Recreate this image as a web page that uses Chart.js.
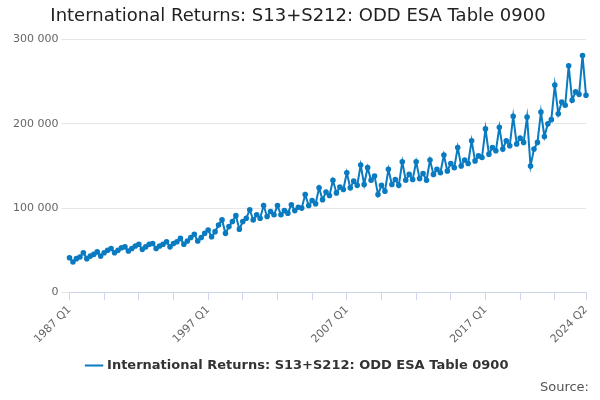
<!DOCTYPE html>
<html>
<head>
<meta charset="utf-8">
<script src="https://cdn.jsdelivr.net/npm/chart.js@4/dist/chart.umd.min.js"></script>
<style>
  body { margin: 0; background: #fff; font-family: "DejaVu Sans", sans-serif; }
  #wrap { position: relative; width: 600px; height: 400px; }
  #source { position: absolute; right: 11px; bottom: 6px; font-size: 13px; color: #555; }
</style>
</head>
<body>
<div id="wrap">
  <canvas id="myChart" width="600" height="400"></canvas>
  <div id="source">Source:</div>
</div>
<script>
/* global Chart */

const firstYear = 1987;
const seriesName = 'International Returns: S13+S212: ODD ESA Table 0900';

// thousands, quarterly from 1987 Q1 to 2024 Q2
const returns = [
  41, 36, 40, 42, 47, 40, 43, 45, 48, 43, 47, 50, 52, 47, 50, 53,
  54, 49, 52, 55, 57, 51, 54, 57, 58, 52, 55, 57, 60, 54, 58, 60,
  64, 57, 61, 65, 69, 61, 65, 70, 74, 66, 72, 80, 86, 70, 78, 84,
  91, 75, 84, 88, 98, 86, 92, 88, 103, 90, 96, 92, 103, 92, 97, 94,
  104, 97, 101, 100, 116, 103, 109, 105, 124, 110, 119, 115, 133, 118, 125, 122,
  142, 124, 132, 127, 151, 128, 148, 133, 138, 116, 127, 120, 146, 128, 134, 127,
  155, 133, 140, 134, 155, 135, 141, 133, 157, 140, 146, 142, 163, 144, 153, 148,
  172, 150, 157, 153, 180, 156, 162, 160, 194, 164, 172, 168, 196, 170, 180, 174,
  209, 176, 183, 178, 208, 150, 170, 178, 214, 185, 200, 205, 246, 212, 226, 222,
  269, 228, 238, 235, 281, 234,
];

const quarters = returns.map((v, i) => `${firstYear + Math.floor(i / 4)} Q${(i % 4) + 1}`);
const values = returns.map((v) => v * 1000);

function spaced(value) {
  return value.toString().replace(/\B(?=(\d{3})+(?!\d))/g, ' ');
}

function returnsChart() {
  const last = quarters.length - 1;
  const config = {
    type: 'line',
    data: {
      labels: quarters,
      datasets: [{
        label: seriesName,
        data: values,
        borderColor: '#0a7bc0',
        backgroundColor: '#0a7bc0',
        borderWidth: 2,
        pointRadius: 1.8,
        tension: 0,
      }],
    },
    options: {
      responsive: false,
      animation: false,
      layout: { padding: { left: 10, right: 14, bottom: 18 } },
      plugins: {
        title: {
          display: true,
          text: seriesName,
          color: '#222',
          font: { size: 18, family: 'DejaVu Sans', weight: 'normal' },
          padding: { top: 6, bottom: 12 },
        },
        legend: {
          position: 'bottom',
          labels: {
            usePointStyle: true,
            pointStyle: 'line',
            color: '#333',
            font: { size: 13, weight: 'bold', family: 'DejaVu Sans' },
          },
        },
      },
      scales: {
        x: {
          grid: {
            drawOnChartArea: false,
            tickLength: 8,
            tickColor: (ctx) => ((ctx.index % 10 === 0 || ctx.index === last) ? '#ccd6eb' : 'rgba(0,0,0,0)'),
          },
          border: { color: '#ccd6eb' },
          ticks: {
            autoSkip: false,
            maxRotation: 45,
            minRotation: 45,
            color: '#666',
            font: { size: 11, family: 'DejaVu Sans' },
            callback: (v, i) => ((i % 40 === 0 || i === last) ? quarters[i] : ''),
          },
        },
        y: {
          min: 0,
          max: 300000,
          border: { display: false },
          grid: { color: '#e6e6e6' },
          ticks: {
            stepSize: 100000,
            color: '#666',
            font: { size: 11, family: 'DejaVu Sans' },
            callback: spaced,
          },
        },
      },
    },
  };

  return new Chart(document.getElementById('myChart'), config);
}

returnsChart();
</script>
</body>
</html>
